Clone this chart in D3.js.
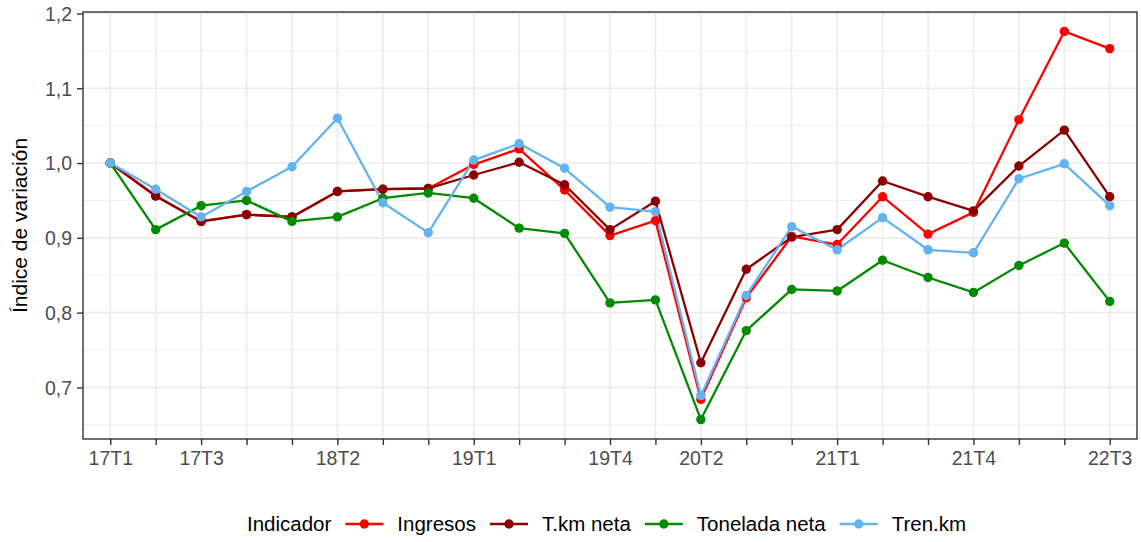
<!DOCTYPE html>
<html>
<head>
<meta charset="utf-8">
<script src="https://cdn.jsdelivr.net/npm/d3@7"></script>
<style>
  body { margin: 0; background: #fff; }
  text { font-family: "Liberation Sans", Arial, sans-serif; }
</style>
</head>
<body>
<script>
var quarters = ["17T1","17T2","17T3","17T4","18T1","18T2","18T3","18T4",
    "19T1","19T2","19T3","19T4","20T1","20T2","20T3","20T4",
    "21T1","21T2","21T3","21T4","22T1","22T2","22T3"];
var shownLabels = ["17T1","17T3","18T2","19T1","19T4","20T2","21T1","21T4","22T3"];
var yTicks = [0.7, 0.8, 0.9, 1.0, 1.1, 1.2];
var yMinor = [0.65, 0.75, 0.85, 0.95, 1.05, 1.15];

var ingresos = [1.000, 0.956, 0.922, 0.931, 0.928, 0.962, 0.965, 0.966,
    0.998, 1.019, 0.964, 0.903, 0.923, 0.684, 0.820, 0.902,
    0.891, 0.955, 0.905, 0.934, 1.058, 1.176, 1.153];
var tkmNeta = [1.000, 0.956, 0.922, 0.931, 0.928, 0.962, 0.965, 0.966,
    0.984, 1.001, 0.971, 0.911, 0.949, 0.733, 0.858, 0.901,
    0.911, 0.976, 0.955, 0.936, 0.996, 1.044, 0.955];
var toneladaNeta = [1.000, 0.911, 0.943, 0.950, 0.922, 0.928, 0.953, 0.960,
    0.953, 0.913, 0.906, 0.813, 0.817, 0.657, 0.776, 0.831,
    0.829, 0.870, 0.847, 0.827, 0.863, 0.893, 0.815];
var trenKm = [1.000, 0.965, 0.928, 0.962, 0.995, 1.060, 0.947, 0.907,
    1.004, 1.026, 0.993, 0.941, 0.935, 0.689, 0.823, 0.915,
    0.884, 0.927, 0.884, 0.880, 0.979, 0.999, 0.943];

var seriesNames = ["Ingresos", "T.km neta", "Tonelada neta", "Tren.km"];
var seriesColors = ["#FF0000", "#8B0000", "#008B00", "#63B3F0"];
var seriesValues = [ingresos, tkmNeta, toneladaNeta, trenKm];

var series = seriesNames.map(function(n, i) {
    return { name: n, color: seriesColors[i],
        values: seriesValues[i].map(function(v, j) { return { q: quarters[j], v: v }; }) };
});

var w = 1141, h = 542;
var pLeft = 83, pRight = 1137, pTop = 12, pBottom = 439;

var svg = d3.select("body").append("svg")
    .attr("width", w).attr("height", h);

var xScale = d3.scalePoint()
    .domain(quarters)
    .range([pLeft, pRight])
    .padding(0.6);

var allVals = d3.merge(seriesValues);
var lo = d3.min(allVals), hi = d3.max(allVals);
var pad = (hi - lo) * 0.05;
var yScale = d3.scaleLinear()
    .domain([lo - pad, hi + pad])
    .range([pBottom, pTop]);

// grid
svg.append("g").selectAll("line")
    .data(yMinor).enter().append("line")
    .attr("x1", pLeft).attr("x2", pRight)
    .attr("y1", function(d) { return yScale(d); })
    .attr("y2", function(d) { return yScale(d); })
    .attr("stroke", "#EBEBEB").attr("stroke-width", 0.8);

svg.append("g").selectAll("line")
    .data(yTicks).enter().append("line")
    .attr("x1", pLeft).attr("x2", pRight)
    .attr("y1", function(d) { return yScale(d); })
    .attr("y2", function(d) { return yScale(d); })
    .attr("stroke", "#EBEBEB").attr("stroke-width", 1.6);

svg.append("g").selectAll("line")
    .data(quarters).enter().append("line")
    .attr("x1", function(d) { return xScale(d); })
    .attr("x2", function(d) { return xScale(d); })
    .attr("y1", pTop).attr("y2", pBottom)
    .attr("stroke", "#EBEBEB").attr("stroke-width", 1.6);

// axes
var xAxis = d3.axisBottom(xScale)
    .tickSizeInner(6).tickSizeOuter(0).tickPadding(6)
    .tickFormat(function(d) { return shownLabels.indexOf(d) >= 0 ? d : ""; });
var gx = svg.append("g").attr("transform", "translate(0," + pBottom + ")").call(xAxis);

var fmt = function(d) { return d3.format(".1f")(d).replace(".", ","); };
var yAxis = d3.axisLeft(yScale)
    .tickValues(yTicks).tickFormat(fmt)
    .tickSizeInner(6).tickSizeOuter(0).tickPadding(5);
var gy = svg.append("g").attr("transform", "translate(" + pLeft + ",0)").call(yAxis);

[gx, gy].forEach(function(g) {
    g.select(".domain").remove();
    g.selectAll(".tick line").attr("stroke", "#333333").attr("stroke-width", 1.4);
    g.selectAll(".tick text").attr("fill", "#4D4D4D")
        .style("font-size", "19.5px");
});
gy.selectAll(".tick text").attr("dy", "0.35em");

// panel border
svg.append("rect")
    .attr("x", pLeft).attr("y", pTop)
    .attr("width", pRight - pLeft).attr("height", pBottom - pTop)
    .attr("fill", "none").attr("stroke", "#333333").attr("stroke-width", 1.4);

// lines, then points on top
var line = d3.line()
    .x(function(d) { return xScale(d.q); })
    .y(function(d) { return yScale(d.v); });

svg.append("g").selectAll("path")
    .data(series).enter().append("path")
    .attr("d", function(d) { return line(d.values); })
    .attr("fill", "none")
    .attr("stroke", function(d) { return d.color; })
    .attr("stroke-width", 2.3)
    .attr("stroke-linejoin", "round");

svg.append("g").selectAll("g")
    .data(series).enter().append("g")
    .attr("fill", function(d) { return d.color; })
    .selectAll("circle")
    .data(function(d) { return d.values; }).enter().append("circle")
    .attr("cx", function(d) { return xScale(d.q); })
    .attr("cy", function(d) { return yScale(d.v); })
    .attr("r", 4.7);

// y title
svg.append("text")
    .attr("transform", "translate(27," + ((pTop + pBottom) / 2) + ") rotate(-90)")
    .attr("text-anchor", "middle")
    .style("font-size", "21px")
    .attr("fill", "#000")
    .text("Índice de variación");

// legend
var legY = 524;
var leg = svg.append("g");
var title = leg.append("text")
    .attr("x", 247).attr("y", legY).attr("dy", "0.35em")
    .style("font-size", "20.5px").text("Indicador");
var cx = 247 + title.node().getComputedTextLength() + 14;
series.forEach(function(s) {
    leg.append("line")
        .attr("x1", cx).attr("x2", cx + 38)
        .attr("y1", legY).attr("y2", legY)
        .attr("stroke", s.color).attr("stroke-width", 2.3);
    leg.append("circle")
        .attr("cx", cx + 19).attr("cy", legY).attr("r", 4.7)
        .attr("fill", s.color);
    var t = leg.append("text")
        .attr("x", cx + 52).attr("y", legY).attr("dy", "0.35em")
        .style("font-size", "20.5px").text(s.name);
    cx = cx + 52 + t.node().getComputedTextLength() + 14;
});
</script>
</body>
</html>
